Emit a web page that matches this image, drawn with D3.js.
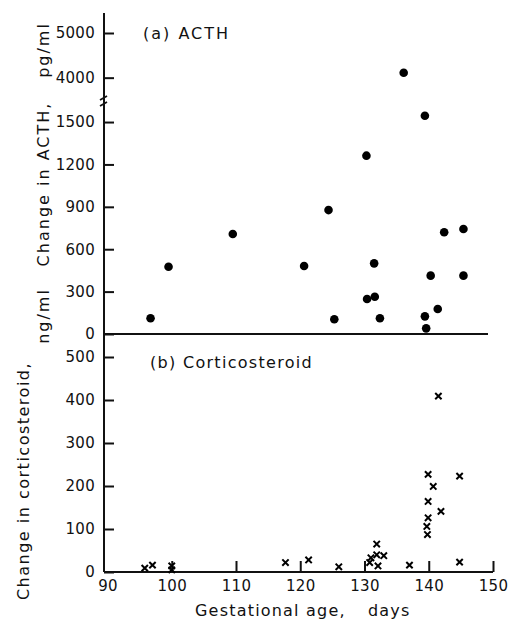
<!DOCTYPE html>
<html>
<head>
<meta charset="utf-8">
<script src="https://cdn.jsdelivr.net/npm/d3@7"></script>
<style>
  body { margin: 0; background: #fff; }
  svg text { font-family: "DejaVu Sans", sans-serif; fill: #111; }
</style>
</head>
<body>
<svg width="509" height="621"></svg>
<script>
// (a) ACTH: gestational age (days) and change in ACTH
const acthAge = [96.7, 99.5, 109.5, 120.6, 124.4, 125.3, 130.3, 130.4, 131.5, 131.6,
  132.4, 136.1, 139.4, 139.4, 139.6, 140.3, 141.4, 142.4, 145.4, 145.4];
const acthChange = [111, 476, 708, 481, 877, 104, 1262, 248, 500, 264,
  111, 4110, 1545, 125, 40, 413, 177, 720, 743, 413];

// (b) corticosteroid
const corticoAge = [95.8, 97, 100, 100, 117.7, 121.3, 126, 131, 130.8, 131.9, 131.9,
  133, 132.1, 137, 139.8, 139.7, 139.9, 139.9, 140.7, 139.9, 141.9, 141.5, 144.8, 144.8];
const corticoChange = [9, 16, 14, 5, 22, 28, 12, 33, 22, 65, 40,
  38, 14, 16, 87, 106, 126, 164, 199, 227, 141, 409, 223, 23];

const xTicks = [90, 100, 110, 120, 130, 140, 150];
const yTicksA = [0, 300, 600, 900, 1200, 1500, 4000, 5000];
const yTicksB = [0, 100, 200, 300, 400, 500];

const svg = d3.select("svg");
const AXIS_X = 104;

var x = d3.scaleLinear().domain([90, 150]).range([107.5, 493]);
// broken axis: linear up to the break, then compressed 4000-5000 part
var yA = d3.scaleLinear().domain([0, 1656, 3500, 5000]).range([334, 100, 100, 33]);
var yB = d3.scaleLinear().domain([0, 500]).range([572, 357]);

function styleAxis(g) {
  g.select(".domain").remove();
  g.selectAll("line").attr("stroke", "#111").attr("stroke-width", 2);
  g.selectAll("text")
    .style("font-family", "DejaVu Sans")
    .style("font-size", "15px")
    .style("letter-spacing", "0.3px")
    .attr("fill", "#111");
}

// y axis line, one for both panels
svg.append("line")
  .attr("x1", AXIS_X).attr("x2", AXIS_X)
  .attr("y1", 13).attr("y2", yB(0))
  .attr("stroke", "#111").attr("stroke-width", 2);

// break marks
[-3, 3].forEach(function (d) {
  svg.append("line")
    .attr("x1", AXIS_X - 4).attr("y1", 101 + d + 2)
    .attr("x2", AXIS_X + 3).attr("y2", 101 + d - 2)
    .attr("stroke", "#111").attr("stroke-width", 1.8);
});

// top panel zero line
svg.append("line")
  .attr("x1", AXIS_X).attr("x2", 488)
  .attr("y1", yA(0)).attr("y2", yA(0))
  .attr("stroke", "#111").attr("stroke-width", 2);

// bottom panel x axis line
svg.append("line")
  .attr("x1", AXIS_X).attr("x2", x(150))
  .attr("y1", yB(0)).attr("y2", yB(0))
  .attr("stroke", "#111").attr("stroke-width", 2);

svg.append("g")
  .attr("transform", "translate(" + AXIS_X + ",0)")
  .call(d3.axisLeft(yA).tickValues(yTicksA).tickSize(-10).tickPadding(9).tickFormat(d3.format("d")))
  .call(styleAxis);

svg.append("g")
  .attr("transform", "translate(" + AXIS_X + ",0)")
  .call(d3.axisLeft(yB).tickValues(yTicksB).tickSize(-10).tickPadding(9).tickFormat(d3.format("d")))
  .call(styleAxis);

var xg = svg.append("g")
  .attr("transform", "translate(0," + yB(0) + ")")
  .call(d3.axisBottom(x).tickValues(xTicks).tickSize(-11).tickPadding(8))
  .call(styleAxis);
xg.selectAll(".tick").filter(function (d) { return d === 90; }).select("line").remove();

// dots for ACTH
svg.append("g")
  .selectAll("circle")
  .data(acthAge)
  .join("circle")
  .attr("cx", function (d) { return x(d); })
  .attr("cy", function (d, i) { return yA(acthChange[i]); })
  .attr("r", 4.3)
  .attr("fill", "#000");

// crosses for corticosteroid
var cross = d3.symbol().type(d3.symbolX).size(28);
svg.append("g")
  .selectAll("path")
  .data(corticoAge)
  .join("path")
  .attr("transform", function (d, i) {
    return "translate(" + x(d) + "," + yB(corticoChange[i]) + ")";
  })
  .attr("d", cross)
  .attr("fill", "none")
  .attr("stroke", "#000")
  .attr("stroke-width", 2);

// panel titles
svg.append("text").attr("x", 143).attr("y", 39)
  .style("font-size", "16px").style("letter-spacing", "2px")
  .text("(a) ACTH");
svg.append("text").attr("x", 150).attr("y", 368)
  .style("font-size", "16px").style("letter-spacing", "1.3px")
  .text("(b) Corticosteroid");

// rotated y labels
function vlabel(cx, cy, str, ls) {
  svg.append("text")
    .attr("transform", "translate(" + cx + "," + cy + ") rotate(-90)")
    .attr("text-anchor", "middle")
    .attr("dy", "0.35em")
    .style("font-size", "16px")
    .style("letter-spacing", ls)
    .text(str);
}
vlabel(43, 50, "pg/ml", "2px");
vlabel(43, 184, "Change in ACTH,", "2px");
vlabel(43, 316, "ng/ml", "2px");
vlabel(23, 481, "Change in corticosteroid,", "1.5px");

// x label
svg.append("text").attr("x", 195).attr("y", 616)
  .style("font-size", "16px").style("letter-spacing", "1.2px")
  .text("Gestational age,");
svg.append("text").attr("x", 368).attr("y", 616)
  .style("font-size", "16px").style("letter-spacing", "1.2px")
  .text("days");
</script>
</body>
</html>
